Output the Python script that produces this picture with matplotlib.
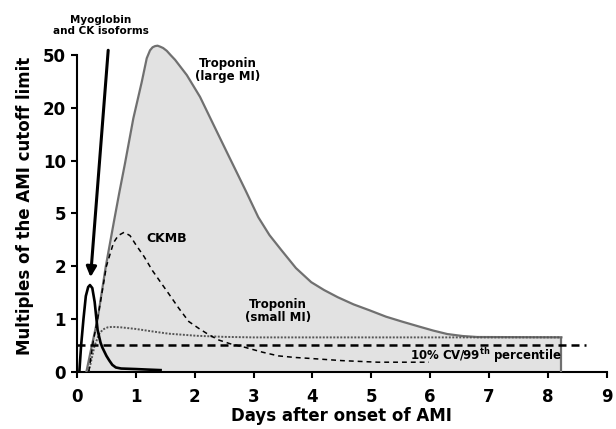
import numpy as np
import matplotlib
matplotlib.use("Agg")
import matplotlib.pyplot as plt

plt.rcParams["font.family"] = ["DejaVu Sans"]
plt.rcParams["font.weight"] = "bold"

# data (days after onset, multiples of cutoff)
large_days = [0.16, 0.25, 0.35, 0.49, 0.63, 0.72, 0.816, 0.957, 1.10, 1.185,
              1.241, 1.284, 1.327, 1.369, 1.41, 1.463, 1.525, 1.59, 1.667,
              1.866, 2.09, 2.32, 2.55, 2.69, 2.86, 3.08, 3.27, 3.47, 3.72,
              3.98, 4.20, 4.43, 4.70, 4.97, 5.25, 5.53, 5.82, 6.05, 6.29,
              6.55, 6.80, 8.23]
large_vals = [0, 0.48, 1.0, 2.0, 4.4, 6.6, 9.66, 17.4, 31.3, 47.3,
              54.3, 57.2, 58.4, 58.8, 57.9, 56.5, 53.8, 50, 46,
              35.3, 24.2, 16.0, 11.1, 8.9, 6.8, 4.68, 3.43, 2.65, 1.95,
              1.62, 1.46, 1.33, 1.21, 1.12, 1.03, 0.947, 0.853, 0.78, 0.714,
              0.676, 0.657, 0.652]

myo_days = [0.04, 0.07, 0.11, 0.15, 0.19, 0.22, 0.26, 0.30, 0.33, 0.35, 0.40,
            0.43, 0.50, 0.55, 0.60, 0.66, 0.75, 1.00, 1.20, 1.42]
myo_vals = [0, 0.5, 1.0, 1.35, 1.52, 1.56, 1.5, 1.25, 1.0, 0.79, 0.55,
            0.46, 0.30, 0.21, 0.13, 0.08, 0.06, 0.05, 0.04, 0.03]

ckmb_days = [0.20, 0.28, 0.35, 0.50, 0.62, 0.70, 0.80, 0.90, 1.00, 1.14, 1.28,
             1.42, 1.56, 1.73, 1.90, 2.07, 2.24, 2.41, 2.60, 2.86, 3.15, 3.42,
             3.70, 3.98, 4.50, 5.11, 5.98]
ckmb_vals = [0, 0.6, 1.0, 2.0, 3.0, 3.4, 3.6, 3.4, 2.9, 2.36, 1.89,
             1.62, 1.39, 1.15, 0.95, 0.82, 0.70, 0.60, 0.53, 0.46, 0.37, 0.30,
             0.27, 0.25, 0.21, 0.18, 0.18]

small_days = [0.20, 0.30, 0.38, 0.44, 0.52, 0.60, 0.75, 1.00, 1.30, 1.56, 2.04,
              2.50, 3.00, 8.23]
small_vals = [0, 0.5, 0.72, 0.80, 0.84, 0.85, 0.84, 0.81, 0.76, 0.72, 0.68,
              0.66, 0.65, 0.65]

cutoff = 0.5
cutoff_end = 8.65

y_ticks = [0, 1, 2, 5, 10, 20, 50]
x_ticks = list(range(10))

# y axis: linear 0..1, then equal steps per tick (log between ticks)
LOGT = np.log10([1, 2, 5, 10, 20, 50])
POS = np.arange(1, 7)
LAST = np.log10(2.5)


def fwd(v):
    v = np.asarray(v, float)
    lv = np.log10(np.clip(v, 1, None))
    p = np.interp(lv, LOGT, POS)
    p = np.where(lv > LOGT[-1], 6 + (lv - LOGT[-1]) / LAST, p)
    return np.where(v <= 1, v, p)


def inv(p):
    p = np.asarray(p, float)
    lv = np.interp(p, POS, LOGT)
    lv = np.where(p > 6, LOGT[-1] + (p - 6) * LAST, lv)
    return np.where(p <= 1, p, 10 ** lv)


fig = plt.figure(figsize=(6.16, 4.29), dpi=100)
ax = fig.add_axes([77 / 616, 57.3 / 429, 529.7 / 616, 331.7 / 429])
ax.set_yscale("function", functions=(fwd, inv))
ax.set_xlim(0, 9)
ax.set_ylim(0, float(inv(6.285)))

edge = "#707070"
ax.fill_between(large_days, 0, large_vals, color="#e2e2e2", lw=0, zorder=1)
ax.plot(large_days, large_vals, color=edge, lw=1.6, zorder=3,
        solid_joinstyle="round")
ax.vlines(large_days[-1], 0, large_vals[-1], color=edge, lw=1.6, zorder=3)

ax.plot(small_days, small_vals, color="#555555", lw=1.4,
        linestyle=(0, (1, 0.8)), zorder=4)
ax.plot(ckmb_days, ckmb_vals, color="black", lw=1.1,
        linestyle=(0, (3.2, 2.6)), zorder=4)
ax.plot(myo_days, myo_vals, color="black", lw=1.9, zorder=5)
ax.plot([0, cutoff_end], [cutoff, cutoff], color="black", lw=1.8,
        linestyle=(0, (3.2, 2)), zorder=5)

ax.annotate("", xy=(0.23, 1.73), xytext=(0.53, 54.3),
            arrowprops=dict(arrowstyle="-|>,head_length=0.6,head_width=0.3",
                            color="black", lw=2.2, shrinkA=0, shrinkB=0),
            zorder=6)

fig.text(101 / 616, 1 - 25.5 / 429, "Myoglobin\nand CK isoforms", ha="center",
         va="center", fontsize=7.5, fontweight="bold", linespacing=1.15)
ax.text(0.284, 0.911, "Troponin\n(large MI)", transform=ax.transAxes,
        ha="center", va="center", fontsize=8.5, fontweight="bold",
        linespacing=1.0)
ax.text(0.170, 0.403, "CKMB", transform=ax.transAxes, ha="center",
        va="center", fontsize=9, fontweight="bold")
ax.text(0.379, 0.1845, "Troponin\n(small MI)", transform=ax.transAxes,
        ha="center", va="center", fontsize=8.5, fontweight="bold",
        linespacing=1.0)
ax.text(0.916, 0.050, r"10% CV/99$^{\mathbf{th}}$ percentile",
        transform=ax.transAxes, ha="right", va="center", fontsize=8.5,
        fontweight="bold", zorder=6)

ax.spines["top"].set_visible(False)
ax.spines["right"].set_visible(False)
ax.spines["left"].set_linewidth(1.5)
ax.spines["bottom"].set_linewidth(1.5)
ax.spines["left"].set_bounds(0, 50)

ax.set_yticks(y_ticks)
ax.set_yticklabels([str(t) for t in y_ticks])
ax.set_xticks(x_ticks)
ax.set_xticklabels([str(t) for t in x_ticks])
ax.minorticks_off()
ax.tick_params(axis="both", width=1.5, length=4.5, labelsize=12)
ax.tick_params(axis="x", pad=7)
for lab in ax.get_xticklabels() + ax.get_yticklabels():
    lab.set_fontweight("bold")

ax.set_xlabel("Days after onset of AMI", fontsize=12, fontweight="bold",
              labelpad=1)
ax.set_ylabel("Multiples of the AMI cutoff limit", fontsize=12,
              fontweight="bold", labelpad=6)

fig.savefig("out.png", dpi=100)
